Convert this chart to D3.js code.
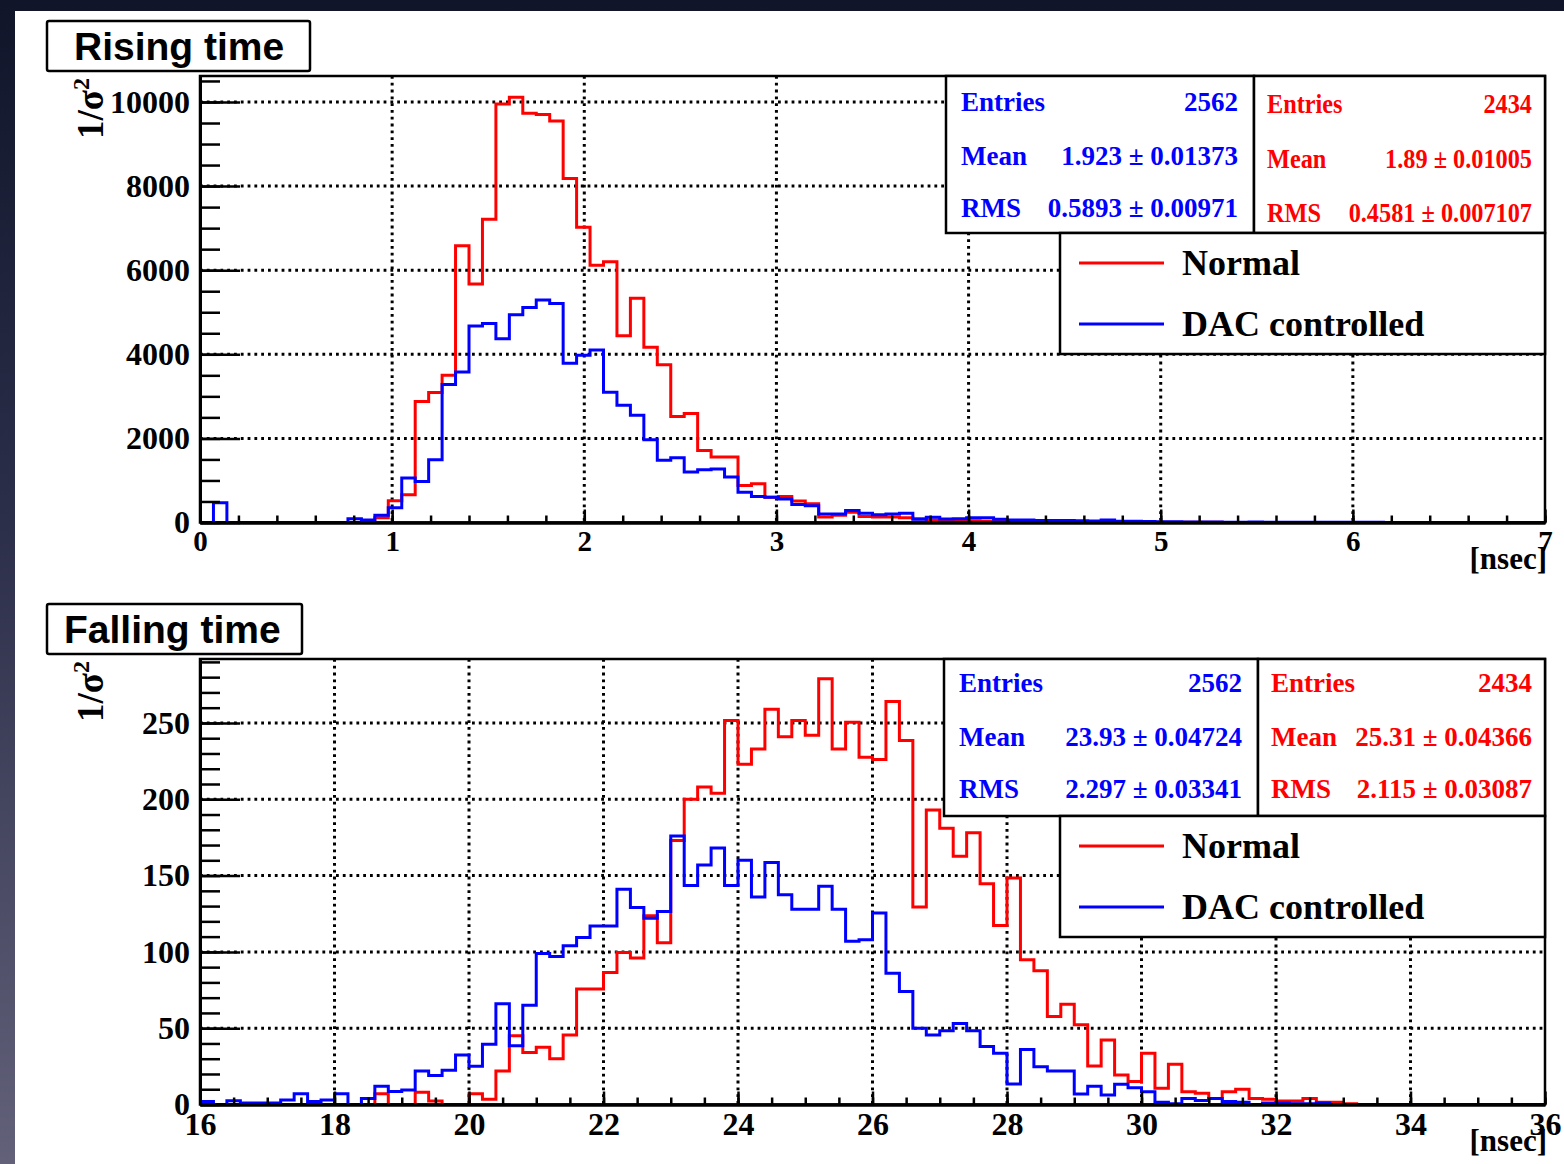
<!DOCTYPE html>
<html>
<head>
<meta charset="utf-8">
<script src="https://cdn.jsdelivr.net/npm/d3@7"></script>
<style>
  html, body { margin: 0; padding: 0; background: #151a2e; }
  svg { display: block; }
</style>
</head>
<body>
<script>
// ---------- data ----------
// 100 equal-width bins per histogram
const risingRange = [0, 7];
const fallingRange = [16, 36];

const risingNormal = [
  0, 0, 0, 0, 0, 0, 0, 0, 0, 0,
  0, 0, 0, 110, 520, 660, 2880, 3090, 3500, 6580,
  5670, 7210, 9950, 10110, 9730, 9700, 9550, 8180, 7020, 6120,
  6200, 4440, 5330, 4170, 3750, 2520, 2590, 1710, 1555, 1555,
  880, 920, 600, 620, 510, 445, 130, 170, 245, 140,
  130, 130, 110, 90, 60, 50, 45, 40, 30, 30,
  25, 20, 25, 20, 15, 12, 10, 8, 8, 6,
  5, 5, 4, 3, 3, 3, 2, 2, 2, 1,
  1, 1, 1, 0, 1, 0, 0, 1, 0, 0,
  0, 0, 1, 0, 0, 0, 0, 0, 0, 0
];
const risingDAC = [
  0, 470, 0, 0, 0, 0, 0, 0, 0, 0,
  0, 90, 60, 170, 350, 1060, 975, 1490, 3280, 3580,
  4670, 4730, 4370, 4940, 5110, 5290, 5210, 3790, 3980, 4100,
  3100, 2790, 2550, 1970, 1480, 1540, 1200, 1255, 1270, 1080,
  720, 620, 600, 560, 430, 400, 205, 205, 285, 220,
  185, 200, 220, 75, 125, 85, 90, 114, 110, 76,
  60, 60, 50, 45, 45, 40, 35, 60, 30, 30,
  25, 20, 15, 12, 10, 10, 8, 8, 12, 6,
  6, 5, 5, 4, 4, 3, 3, 3, 2, 2,
  2, 2, 2, 2, 1, 1, 1, 1, 1, 1
];
const fallingNormal = [
  0, 0, 0, 0, 0, 0, 0, 0, 0, 0,
  0, 0, 0, 7, 0, 0, 8, 2.3, 0, 0,
  7, 3.4, 22, 45, 34, 37.5, 30, 45.6, 75.6, 75.6,
  86.5, 99.6, 96, 123.7, 106, 173, 200, 208, 204, 251.6,
  223, 233, 259, 241, 251.6, 242, 279, 233, 250.5, 227.6,
  226, 264, 238.5, 129.4, 193, 181, 162.6, 178, 144.7, 117.3,
  148.4, 94.8, 87.6, 57.6, 65.7, 52.2, 25.3, 42.3, 19.4, 15,
  33.6, 10.6, 26.4, 8.4, 7.3, 4, 8.4, 10, 4, 3.5,
  2.3, 2.3, 4, 1.4, 1.5, 0.5, 0, 0, 0, 0,
  0, 0, 0, 0, 0, 0, 0, 0, 0, 0
];
const fallingDAC = [
  2, 0, 2.5, 1, 1, 1, 3, 7, 2, 3,
  7, 0, 4, 12, 8.5, 9.5, 22, 19, 22.5, 32.5,
  25, 39.5, 66, 38.5, 65, 99, 97, 104, 109.5, 117,
  117, 141, 129, 122, 126.5, 176, 143.5, 157, 168, 143.5,
  160, 136, 158.5, 137.5, 128, 128, 143, 128, 107, 108,
  125.5, 86, 74, 50, 45.6, 48.4, 53, 48.4, 38, 33.6,
  13.5, 36, 24.8, 22, 22, 6.9, 12, 6.2, 13.2, 11,
  8.4, 1.4, 0.5, 4, 2.7, 4, 2, 1.5, 0, 1,
  1, 0.5, 0.5, 1, 0, 0, 0, 0, 0, 0,
  0, 0, 0, 0, 0, 0, 0, 0, 0, 0
];

const risingXTicks = [0, 1, 2, 3, 4, 5, 6, 7];
const risingYTicks = [0, 2000, 4000, 6000, 8000, 10000];
const fallingXTicks = [16, 18, 20, 22, 24, 26, 28, 30, 32, 34, 36];
const fallingYTicks = [0, 50, 100, 150, 200, 250];

const seriesNames = ["Normal", "DAC controlled"];
const seriesColors = ["#ff0000", "#0000ff"];

const risingStatsDAC = [["Entries", "2562"], ["Mean", "1.923 ± 0.01373"], ["RMS", "0.5893 ± 0.00971"]];
const risingStatsNormal = [["Entries", "2434"], ["Mean", "1.89 ± 0.01005"], ["RMS", "0.4581 ± 0.007107"]];
const fallingStatsDAC = [["Entries", "2562"], ["Mean", "23.93 ± 0.04724"], ["RMS", "2.297 ± 0.03341"]];
const fallingStatsNormal = [["Entries", "2434"], ["Mean", "25.31 ± 0.04366"], ["RMS", "2.115 ± 0.03087"]];

// ---------- page ----------
const W = 1564, H = 1164;
const SERIF = "'Liberation Serif', 'Times New Roman', serif";
const SANS = "'Liberation Sans', Arial, Helvetica, sans-serif";

const svg = d3.select("body").append("svg").attr("width", W).attr("height", H);

const defs = svg.append("defs");
const bg = defs.append("linearGradient").attr("id", "slideBg")
  .attr("x1", 0).attr("y1", 0).attr("x2", 0).attr("y2", 1);
bg.append("stop").attr("offset", 0).attr("stop-color", "#10152a");
bg.append("stop").attr("offset", 0.45).attr("stop-color", "#2c2f4a");
bg.append("stop").attr("offset", 1).attr("stop-color", "#63617a");

svg.append("rect").attr("width", W).attr("height", H).attr("fill", "url(#slideBg)");
svg.append("rect").attr("x", 15).attr("y", 11).attr("width", W - 15).attr("height", H - 11).attr("fill", "#ffffff");

function drawPanel(opt) {
  const g = svg.append("g");
  const left = 200, right = 1545;
  const x = d3.scaleLinear().domain(opt.range).range([left, right]);
  const y = d3.scaleLinear().domain([0, opt.yMax]).range([opt.bottom, opt.top]);

  // clip for histogram outlines
  const clipId = "clip-" + opt.id;
  defs.append("clipPath").attr("id", clipId)
    .append("rect").attr("x", left).attr("y", opt.top)
    .attr("width", right - left).attr("height", opt.bottom - opt.top);

  // dotted grid
  const grid = g.append("g").attr("stroke", "#000").attr("stroke-width", 3)
    .attr("stroke-dasharray", "2.8,4");
  grid.selectAll("line.gx").data(opt.xTicks.slice(1, -1)).join("line")
    .attr("class", "gx")
    .attr("x1", d => x(d)).attr("x2", d => x(d))
    .attr("y1", opt.top).attr("y2", opt.bottom);
  grid.selectAll("line.gy").data(opt.yTicks.slice(1)).join("line")
    .attr("class", "gy")
    .attr("x1", left).attr("x2", right)
    .attr("y1", d => y(d)).attr("y2", d => y(d));

  // histograms (normal first, DAC controlled on top)
  const nb = opt.series[0].length;
  const step = (opt.range[1] - opt.range[0]) / nb;
  const toPoints = vals => [[opt.range[0], 0]]
    .concat(vals.map((v, i) => [opt.range[0] + i * step, v]))
    .concat([[opt.range[1], vals[nb - 1]], [opt.range[1], 0]]);
  const line = d3.line().x(d => x(d[0])).y(d => y(d[1])).curve(d3.curveStepAfter);
  const hg = g.append("g").attr("clip-path", `url(#${clipId})`);
  opt.series.forEach((vals, i) => {
    hg.append("path").datum(toPoints(vals))
      .attr("d", line)
      .attr("fill", "none")
      .attr("stroke", seriesColors[i])
      .attr("stroke-width", 3)
      .attr("stroke-linejoin", "miter");
  });

  // y axis: major + minor ticks pointing into the frame
  const yAxis = g.append("g").attr("transform", `translate(${left},0)`)
    .call(d3.axisLeft(y).tickValues(opt.yTicks).tickSize(-40).tickSizeOuter(0)
      .tickPadding(10).tickFormat(d3.format("d")));
  g.append("g").attr("transform", `translate(${left},0)`)
    .call(d3.axisLeft(y).tickValues(opt.yMinor).tickSize(-20).tickSizeOuter(0).tickFormat(""))
    .call(s => s.select(".domain").remove())
    .selectAll("line").attr("stroke-width", 2.5);
  yAxis.selectAll("line").attr("stroke-width", 2.5);
  yAxis.select(".domain").attr("stroke-width", 3);
  yAxis.selectAll("text")
    .attr("font-family", SERIF).attr("font-weight", "bold")
    .attr("font-size", 32).attr("fill", "#000");

  // x axis
  const xAxis = g.append("g").attr("transform", `translate(0,${opt.bottom})`)
    .call(d3.axisBottom(x).tickValues(opt.xTicks).tickSize(-13).tickSizeOuter(0)
      .tickPadding(opt.xPad).tickFormat(d3.format("d")));
  g.append("g").attr("transform", `translate(0,${opt.bottom})`)
    .call(d3.axisBottom(x).tickValues(opt.xMinor).tickSize(-7).tickSizeOuter(0).tickFormat(""))
    .call(s => s.select(".domain").remove())
    .selectAll("line").attr("stroke-width", 2.5);
  xAxis.selectAll("line").attr("stroke-width", 2.5);
  xAxis.select(".domain").attr("stroke-width", 3.5);
  xAxis.selectAll("text")
    .attr("font-family", SERIF).attr("font-weight", "bold")
    .attr("font-size", opt.xFont).attr("fill", "#000");

  // frame
  g.append("rect").attr("x", left).attr("y", opt.top)
    .attr("width", right - left).attr("height", opt.bottom - opt.top)
    .attr("fill", "none").attr("stroke", "#000").attr("stroke-width", 2.5);

  // y axis title 1/σ²
  const yt = g.append("text")
    .attr("transform", `translate(103,${opt.top + 2}) rotate(-90)`)
    .attr("text-anchor", "end")
    .attr("font-family", SERIF).attr("font-weight", "bold")
    .attr("font-size", 37).attr("fill", "#000");
  yt.append("tspan").text("1/σ");
  yt.append("tspan").attr("dy", -14).attr("font-size", 24).text("2");

  // unit label
  g.append("text").attr("x", 1547).attr("y", opt.bottom + 46)
    .attr("text-anchor", "end")
    .attr("font-family", SERIF).attr("font-weight", "bold")
    .attr("font-size", 31).attr("fill", "#000")
    .text("[nsec]");

  // title box
  g.append("rect").attr("x", 47).attr("y", opt.titleY)
    .attr("width", opt.titleW).attr("height", 50).attr("rx", 2)
    .attr("fill", "#fff").attr("stroke", "#000").attr("stroke-width", 2.5);
  g.append("text").attr("x", opt.titleX).attr("y", opt.titleY + 39)
    .attr("font-family", SANS).attr("font-weight", "bold")
    .attr("font-size", 39).attr("fill", "#000")
    .text(opt.title);

  // statistics boxes
  const boxTop = opt.top, boxBottom = opt.top + 157;
  const drawStats = (stats, x0, x1, color, rows, sx, lx, vx) => {
    g.append("rect").attr("x", x0).attr("y", boxTop)
      .attr("width", x1 - x0).attr("height", boxBottom - boxTop)
      .attr("fill", "#fff").attr("stroke", "#000").attr("stroke-width", 2.5);
    stats.forEach((s, i) => {
      g.append("text")
        .attr("transform", `translate(${lx},${rows[i]}) scale(${sx},1)`)
        .attr("font-family", SERIF).attr("font-weight", "bold")
        .attr("font-size", 27).attr("fill", color).text(s[0]);
      g.append("text")
        .attr("transform", `translate(${vx},${rows[i]}) scale(${sx},1)`)
        .attr("text-anchor", "end")
        .attr("font-family", SERIF).attr("font-weight", "bold")
        .attr("font-size", 27).attr("fill", color).text(s[1]);
    });
  };
  drawStats(opt.statsDAC, opt.dacX0, opt.divX, seriesColors[1], opt.dacRows, 1, opt.dacX0 + 15, opt.divX - 16);
  drawStats(opt.statsNormal, opt.divX, right, seriesColors[0], opt.normRows, opt.normScale, opt.divX + 13, 1532);

  // legend
  const lgTop = boxBottom, lgBottom = boxBottom + 121;
  g.append("rect").attr("x", 1060).attr("y", lgTop)
    .attr("width", right - 1060).attr("height", lgBottom - lgTop)
    .attr("fill", "#fff").attr("stroke", "#000").attr("stroke-width", 2.5);
  seriesNames.forEach((name, i) => {
    const ly = lgTop + 30 + i * 61;
    g.append("line").attr("x1", 1079).attr("x2", 1164).attr("y1", ly).attr("y2", ly)
      .attr("stroke", seriesColors[i]).attr("stroke-width", 3);
    g.append("text").attr("x", 1182).attr("y", ly + 12)
      .attr("font-family", SERIF).attr("font-weight", "bold")
      .attr("font-size", 36).attr("fill", "#000").text(name);
  });
}

drawPanel({
  id: "rising",
  title: "Rising time", titleY: 21, titleW: 263, titleX: 74,
  range: risingRange, series: [risingNormal, risingDAC],
  top: 76, bottom: 522.5, yMax: 10618,
  xTicks: risingXTicks, yTicks: risingYTicks,
  xMinor: d3.range(0, 7.0001, 0.2), yMinor: d3.range(0, 10618, 500),
  xPad: 8, xFont: 29,
  statsDAC: risingStatsDAC, statsNormal: risingStatsNormal,
  dacX0: 946, divX: 1254,
  dacRows: [111, 165, 217], normRows: [113, 168, 222], normScale: 0.9
});

drawPanel({
  id: "falling",
  title: "Falling time", titleY: 604, titleW: 255, titleX: 64,
  range: fallingRange, series: [fallingNormal, fallingDAC],
  top: 659, bottom: 1104.5, yMax: 291.9,
  xTicks: fallingXTicks, yTicks: fallingYTicks,
  xMinor: d3.range(16, 36.0001, 0.5), yMinor: d3.range(0, 291.9, 10),
  xPad: 8, xFont: 32,
  statsDAC: fallingStatsDAC, statsNormal: fallingStatsNormal,
  dacX0: 944, divX: 1258,
  dacRows: [692, 746, 798], normRows: [692, 746, 798], normScale: 1
});
</script>
</body>
</html>
